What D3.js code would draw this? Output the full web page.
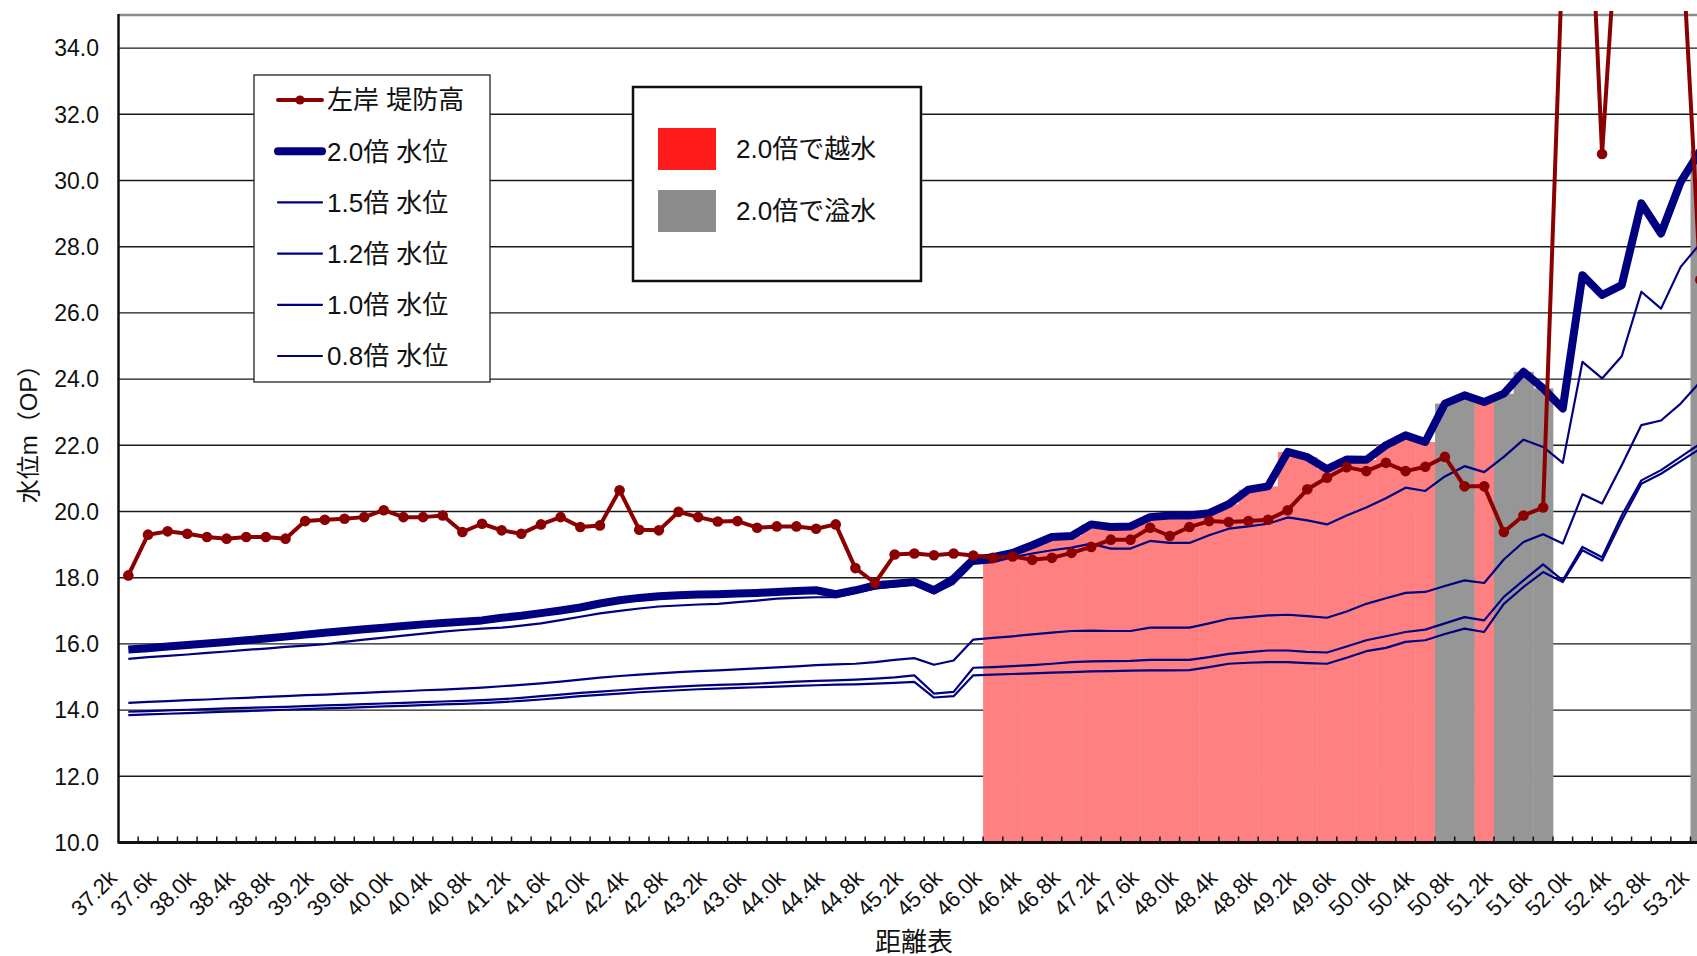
<!DOCTYPE html>
<html>
<head>
<meta charset="utf-8">
<script src="https://cdn.jsdelivr.net/npm/d3@7"></script>
<style>
    body { margin: 0; background: #fff; }
    svg { display: block; font-family: "Liberation Sans", Arial, "Noto Sans CJK JP", sans-serif; }
</style>
</head>
<body>
<svg id="chart" width="1697" height="956"></svg>
<script>
// distance posts 37.2k .. 53.2k every 0.2k
const categories = d3.range(81).map(i => (37.2 + i * 0.2).toFixed(1) + 'k');

// 左岸 堤防高
const leveeLeft = [
    18.07, 19.30, 19.40, 19.33, 19.23, 19.18, 19.23, 19.23, 19.18, 19.71,
    19.75, 19.78, 19.83, 20.04, 19.83, 19.83, 19.88, 19.38, 19.63, 19.43,
    19.33, 19.61, 19.83, 19.53, 19.58, 20.64, 19.45, 19.43, 19.99, 19.83,
    19.70, 19.71, 19.51, 19.55, 19.55, 19.48, 19.61, 18.29, 17.84, 18.70,
    18.73, 18.68, 18.73, 18.67, 18.60, 18.64, 18.54, 18.60, 18.75, 18.93,
    19.15, 19.15, 19.51, 19.26, 19.53, 19.71, 19.68, 19.71, 19.75, 20.04,
    20.67, 21.02, 21.34, 21.22, 21.47, 21.22, 21.35, 21.65, 20.76, 20.76,
    19.38, 19.88, 20.12, 37.0, 44.0, 30.8, 40.0, 45.0, 45.0, 38.0,
    27.0
];

const water20 = [
    15.83, 15.87, 15.92, 15.97, 16.01, 16.06, 16.11, 16.16, 16.22, 16.28,
    16.34, 16.39, 16.44, 16.49, 16.54, 16.59, 16.63, 16.67, 16.71, 16.79,
    16.85, 16.93, 17.01, 17.10, 17.22, 17.32, 17.39, 17.44, 17.47, 17.49,
    17.50, 17.52, 17.54, 17.57, 17.60, 17.62, 17.50, 17.62, 17.77, 17.82,
    17.87, 17.62, 17.97, 18.55, 18.62, 18.75, 18.98, 19.23, 19.26, 19.61,
    19.53, 19.55, 19.83, 19.88, 19.88, 19.95, 20.22, 20.66, 20.76, 21.80,
    21.64, 21.28, 21.57, 21.56, 22.00, 22.30, 22.10, 23.26, 23.51, 23.31,
    23.56, 24.22, 23.72, 23.11, 27.14, 26.54, 26.84, 29.31, 28.40, 29.96,
    30.90
];

const water15 = [
    15.55, 15.60, 15.64, 15.68, 15.73, 15.77, 15.82, 15.86, 15.91, 15.95,
    15.99, 16.06, 16.13, 16.19, 16.25, 16.31, 16.37, 16.42, 16.46, 16.49,
    16.55, 16.62, 16.72, 16.82, 16.92, 17.00, 17.07, 17.13, 17.16, 17.19,
    17.21, 17.26, 17.31, 17.37, 17.39, 17.41, 17.41, 17.55, 17.67, 17.74,
    17.80, 17.52, 17.82, 18.42, 18.47, 18.62, 18.73, 18.83, 18.91, 19.03,
    18.88, 18.88, 19.11, 19.05, 19.05, 19.28, 19.48, 19.55, 19.63, 19.82,
    19.73, 19.61, 19.88, 20.12, 20.40, 20.72, 20.62, 21.06, 21.37, 21.19,
    21.65, 22.17, 21.95, 21.47, 24.52, 24.02, 24.69, 26.64, 26.13, 27.39,
    28.10
];

const water12 = [
    14.22, 14.25, 14.27, 14.30, 14.32, 14.35, 14.37, 14.40, 14.42, 14.45,
    14.47, 14.50, 14.52, 14.55, 14.57, 14.60, 14.62, 14.65, 14.68, 14.72,
    14.76, 14.81, 14.86, 14.92, 14.98, 15.03, 15.07, 15.11, 15.15, 15.18,
    15.20, 15.23, 15.26, 15.29, 15.32, 15.36, 15.38, 15.40, 15.45, 15.52,
    15.57, 15.37, 15.50, 16.13, 16.18, 16.23, 16.29, 16.34, 16.39, 16.40,
    16.39, 16.39, 16.49, 16.49, 16.49, 16.62, 16.76, 16.81, 16.86, 16.88,
    16.84, 16.79, 16.98, 17.21, 17.38, 17.54, 17.57, 17.75, 17.92, 17.84,
    18.55, 19.08, 19.31, 19.03, 20.52, 20.24, 21.40, 22.61, 22.75, 23.26,
    23.92
];

const water10 = [
    13.95, 13.97, 13.99, 14.01, 14.03, 14.05, 14.07, 14.08, 14.10, 14.12,
    14.14, 14.16, 14.18, 14.20, 14.22, 14.24, 14.26, 14.28, 14.30, 14.33,
    14.37, 14.42, 14.47, 14.52, 14.56, 14.60, 14.64, 14.68, 14.71, 14.74,
    14.76, 14.78, 14.80, 14.83, 14.86, 14.88, 14.90, 14.92, 14.95, 14.99,
    15.05, 14.50, 14.55, 15.28, 15.30, 15.33, 15.36, 15.40, 15.45, 15.47,
    15.48, 15.49, 15.52, 15.52, 15.52, 15.60, 15.70, 15.75, 15.80, 15.80,
    15.76, 15.74, 15.92, 16.11, 16.23, 16.36, 16.43, 16.62, 16.81, 16.71,
    17.42, 17.92, 18.40, 17.92, 18.93, 18.62, 19.88, 20.94, 21.25, 21.65,
    22.05
];

const water08 = [
    13.85, 13.87, 13.89, 13.91, 13.93, 13.95, 13.97, 13.99, 14.01, 14.03,
    14.05, 14.07, 14.09, 14.11, 14.13, 14.15, 14.17, 14.19, 14.21, 14.24,
    14.28, 14.32, 14.37, 14.42, 14.46, 14.50, 14.54, 14.57, 14.60, 14.63,
    14.65, 14.67, 14.69, 14.71, 14.73, 14.75, 14.77, 14.78, 14.80, 14.82,
    14.85, 14.38, 14.42, 15.05, 15.07, 15.09, 15.11, 15.13, 15.15, 15.17,
    15.18, 15.19, 15.20, 15.20, 15.21, 15.30, 15.40, 15.43, 15.45, 15.45,
    15.42, 15.40, 15.58, 15.78, 15.88, 16.06, 16.11, 16.30, 16.46, 16.36,
    17.21, 17.72, 18.17, 17.87, 18.83, 18.52, 19.73, 20.84, 21.14, 21.52,
    21.90
];

// sections where the 2.0x level overtops (越水) or overflows (溢水)
const overtopSections = [
    '46.0k', '46.2k', '46.4k', '46.6k', '46.8k', '47.0k', '47.2k', '47.4k',
    '47.6k', '47.8k', '48.0k', '48.2k', '48.4k', '48.6k', '48.8k', '49.0k',
    '49.2k', '49.4k', '49.6k', '49.8k', '50.0k', '50.2k', '50.4k', '51.0k'
];
const overflowSections = ['50.6k', '50.8k', '51.2k', '51.4k', '51.6k', '53.2k'];

const yTicks = d3.range(10, 35, 2);

const waterSeries = [
    { name: '2.0倍 水位', values: water20, width: 8 },
    { name: '1.5倍 水位', values: water15, width: 2.2 },
    { name: '1.2倍 水位', values: water12, width: 2.2 },
    { name: '1.0倍 水位', values: water10, width: 2.2 },
    { name: '0.8倍 水位', values: water08, width: 2.2 }
];

const RED = '#8b0000';
const NAVY = '#000080';

document.addEventListener('DOMContentLoaded', drawChart);

function drawChart() {
    const svg = d3.select('#chart');
    const left = 118.5, top = 15, bottom = 842.5;
    const bandW = 19.65;

    const x = d3.scaleBand()
        .domain(categories)
        .range([left, left + bandW * categories.length])
        .paddingInner(0)
        .paddingOuter(0);
    const cx = c => x(c) + x.bandwidth() / 2;

    const y = d3.scaleLinear()
        .domain([10, 35])
        .range([bottom, top]);

    const right = x.range()[1];

    svg.append('defs').append('clipPath')
        .attr('id', 'plot-clip')
        .append('rect')
        .attr('x', left)
        .attr('y', 11)
        .attr('width', right - left)
        .attr('height', bottom - 11);

    // gridlines
    svg.append('g')
        .selectAll('line')
        .data(yTicks.filter(t => t > 10))
        .enter()
        .append('line')
        .attr('x1', left)
        .attr('x2', right)
        .attr('y1', d => y(d))
        .attr('y2', d => y(d))
        .attr('stroke', '#1a1a1a')
        .attr('stroke-width', 1.4);

    // top border of the plot area
    svg.append('line')
        .attr('x1', left).attr('x2', right)
        .attr('y1', top).attr('y2', top)
        .attr('stroke', '#8a8a8a')
        .attr('stroke-width', 2.5);

    const plot = svg.append('g').attr('clip-path', 'url(#plot-clip)');

    // overtop / overflow columns, height = 2.0x water level
    const bars = [
        ...overtopSections.map(c => ({ c, fill: '#ff8080' })),
        ...overflowSections.map(c => ({ c, fill: '#969696' }))
    ];
    plot.selectAll('rect.section')
        .data(bars)
        .enter()
        .append('rect')
        .attr('class', 'section')
        .attr('x', d => x(d.c))
        .attr('width', x.bandwidth() + 0.4)
        .attr('y', d => y(water20[categories.indexOf(d.c)]))
        .attr('height', d => bottom - y(water20[categories.indexOf(d.c)]))
        .attr('fill', d => d.fill);

    const line = d3.line()
        .x((d, i) => cx(categories[i]))
        .y(d => y(d));

    // water levels, thin ones first
    waterSeries.slice().reverse().forEach(s => {
        plot.append('path')
            .datum(s.values)
            .attr('d', line)
            .attr('fill', 'none')
            .attr('stroke', NAVY)
            .attr('stroke-width', s.width)
            .attr('stroke-linejoin', 'round');
    });

    // levee crest
    plot.append('path')
        .datum(leveeLeft)
        .attr('d', line)
        .attr('fill', 'none')
        .attr('stroke', RED)
        .attr('stroke-width', 4)
        .attr('stroke-linejoin', 'round');

    plot.selectAll('circle')
        .data(leveeLeft)
        .enter()
        .append('circle')
        .attr('cx', (d, i) => cx(categories[i]))
        .attr('cy', d => y(d))
        .attr('r', 5.3)
        .attr('fill', RED);

    // axes
    svg.append('line')
        .attr('x1', left).attr('x2', left)
        .attr('y1', top - 1).attr('y2', bottom + 1)
        .attr('stroke', '#111')
        .attr('stroke-width', 2.5);

    svg.append('line')
        .attr('x1', left).attr('x2', right)
        .attr('y1', bottom).attr('y2', bottom)
        .attr('stroke', '#111')
        .attr('stroke-width', 3);

    svg.append('g')
        .selectAll('line')
        .data(categories)
        .enter()
        .append('line')
        .attr('x1', d => x(d) + x.bandwidth())
        .attr('x2', d => x(d) + x.bandwidth())
        .attr('y1', bottom)
        .attr('y2', bottom - 6)
        .attr('stroke', '#111')
        .attr('stroke-width', 1.5);

    svg.append('g')
        .selectAll('text')
        .data(yTicks)
        .enter()
        .append('text')
        .attr('x', 99)
        .attr('y', d => y(d))
        .attr('dy', '0.36em')
        .attr('text-anchor', 'end')
        .attr('font-size', 23)
        .attr('fill', '#111')
        .text(d => d.toFixed(1));

    svg.append('g')
        .selectAll('text')
        .data(categories.filter((c, i) => i % 2 === 0))
        .enter()
        .append('text')
        .attr('transform', d => `translate(${cx(d) - 10},${bottom + 37}) rotate(-45)`)
        .attr('text-anchor', 'end')
        .attr('font-size', 22)
        .attr('fill', '#111')
        .text(d => d);

    svg.append('text')
        .attr('transform', 'translate(37,428) rotate(-90)')
        .attr('text-anchor', 'middle')
        .attr('font-size', 24)
        .attr('fill', '#111')
        .text('水位m（OP）');

    svg.append('text')
        .attr('x', 914)
        .attr('y', 951)
        .attr('text-anchor', 'middle')
        .attr('font-size', 26)
        .attr('fill', '#111')
        .text('距離表');

    drawLegends(svg);
}

function drawLegends(svg) {
    const lg = svg.append('g');
    lg.append('rect')
        .attr('x', 254).attr('y', 75)
        .attr('width', 236).attr('height', 307)
        .attr('fill', '#fff')
        .attr('stroke', '#222')
        .attr('stroke-width', 1.3);

    const items = [{ name: '左岸 堤防高', color: RED, width: 4, marker: true }]
        .concat(waterSeries.map(s => ({ name: s.name, color: NAVY, width: s.width })));

    const rows = lg.selectAll('g.item')
        .data(items)
        .enter()
        .append('g')
        .attr('class', 'item')
        .attr('transform', (d, i) => `translate(0,${100 + i * 51.2})`);

    rows.append('line')
        .attr('x1', 278).attr('x2', 322)
        .attr('stroke', d => d.color)
        .attr('stroke-width', d => d.width)
        .attr('stroke-linecap', 'round');

    rows.filter(d => d.marker)
        .append('circle')
        .attr('cx', 300)
        .attr('r', 4.6)
        .attr('fill', RED);

    rows.append('text')
        .attr('x', 327)
        .attr('dy', '0.36em')
        .attr('font-size', 26)
        .attr('fill', '#111')
        .text(d => d.name);

    const lg2 = svg.append('g');
    lg2.append('rect')
        .attr('x', 633).attr('y', 87)
        .attr('width', 288).attr('height', 194)
        .attr('fill', '#fff')
        .attr('stroke', '#111')
        .attr('stroke-width', 2.5);

    const swatches = [
        { name: '2.0倍で越水', fill: '#ff1a1a', y: 128 },
        { name: '2.0倍で溢水', fill: '#8c8c8c', y: 190 }
    ];
    lg2.selectAll('rect.sw')
        .data(swatches)
        .enter()
        .append('rect')
        .attr('class', 'sw')
        .attr('x', 658).attr('y', d => d.y)
        .attr('width', 58).attr('height', 42)
        .attr('fill', d => d.fill);

    lg2.selectAll('text')
        .data(swatches)
        .enter()
        .append('text')
        .attr('x', 736)
        .attr('y', d => d.y + 21)
        .attr('dy', '0.36em')
        .attr('font-size', 26)
        .attr('fill', '#111')
        .text(d => d.name);
}
</script>
</body>
</html>
